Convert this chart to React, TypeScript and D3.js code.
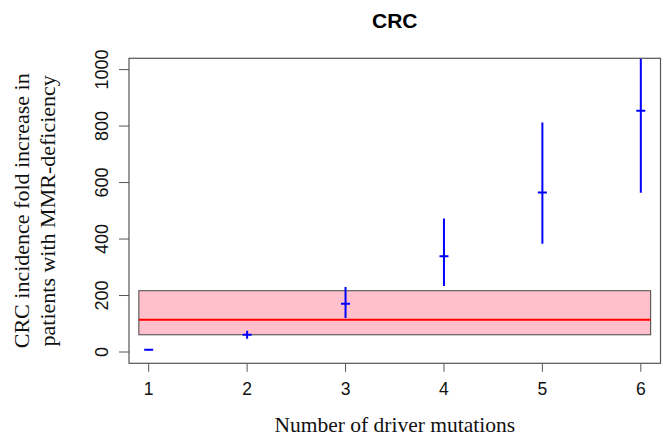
import React from "react";
import * as d3 from "d3";

const categories = [1, 2, 3, 4, 5, 6];
const estimates = [8, 61, 171, 339, 565, 854];
const lowerCI = [5, 47, 120, 234, 383, 564];
const upperCI = [11, 75, 230, 473, 813, 1150];
const yTicks = [0, 200, 400, 600, 800, 1000];
const bandLow = 61;
const bandHigh = 217;
const bandMid = 114;
const bandX = [0.9, 6.1];

const W = 666;
const H = 439;
const plot = { left: 129, right: 660.5, top: 58.3, bottom: 363.3 };

export default function App() {
  const x = d3.scaleLinear().domain([0.8, 6.2]).range([plot.left, plot.right]);
  const y = d3.scaleLinear().domain([-40, 1040]).range([plot.bottom, plot.top]);
  const sans = "'Liberation Sans', Arial, Helvetica, sans-serif";
  const serif = "'Liberation Serif', 'Times New Roman', serif";
  const axisColor = "#555";
  const cy = (plot.top + plot.bottom) / 2;
  const cx = (plot.left + plot.right) / 2;
  const cap = 4.5;
  return (
    <svg width={W} height={H} style={{ position: "absolute", left: 0, top: 0, background: "#fff" }}>
      <defs>
        <clipPath id="plotclip">
          <rect x={plot.left} y={plot.top} width={plot.right - plot.left} height={plot.bottom - plot.top} />
        </clipPath>
      </defs>
      <rect x={0} y={0} width={W} height={H} fill="#fff" />
      <text x={cx} y={28} textAnchor="middle" fontFamily={sans} fontWeight="bold" fontSize={21} fill="#000">
        CRC
      </text>
      {/* band */}
      <rect
        x={x(bandX[0])}
        y={y(bandHigh)}
        width={x(bandX[1]) - x(bandX[0])}
        height={y(bandLow) - y(bandHigh)}
        fill="#FFC0CB"
        stroke="#444"
        strokeWidth={1}
      />
      <line x1={x(bandX[0])} x2={x(bandX[1])} y1={y(bandMid)} y2={y(bandMid)} stroke="#FF0000" strokeWidth={2} />
      {/* error bars */}
      <g clipPath="url(#plotclip)">
        {categories.map((c, i) => (
          <g key={c} stroke="#0000FF" strokeWidth={2}>
            <line x1={x(c)} x2={x(c)} y1={y(lowerCI[i])} y2={y(upperCI[i])} />
            <line x1={x(c) - cap} x2={x(c) + cap} y1={y(estimates[i])} y2={y(estimates[i])} />
          </g>
        ))}
      </g>
      {/* box */}
      <rect
        x={plot.left}
        y={plot.top}
        width={plot.right - plot.left}
        height={plot.bottom - plot.top}
        fill="none"
        stroke={axisColor}
        strokeWidth={1.2}
      />
      {/* y axis ticks */}
      {yTicks.map((t) => (
        <g key={t}>
          <line x1={plot.left - 10} x2={plot.left} y1={y(t)} y2={y(t)} stroke={axisColor} strokeWidth={1} />
          <text
            transform={`translate(${107.5},${y(t)}) rotate(-90)`}
            textAnchor="middle"
            fontFamily={sans}
            fontSize={18}
            fill="#111"
          >
            {t}
          </text>
        </g>
      ))}
      {/* x axis ticks */}
      {categories.map((c) => (
        <g key={c}>
          <line x1={x(c)} x2={x(c)} y1={plot.bottom} y2={plot.bottom + 8.5} stroke={axisColor} strokeWidth={1} />
          <text x={x(c)} y={395} textAnchor="middle" fontFamily={sans} fontSize={17.5} fill="#111">
            {c}
          </text>
        </g>
      ))}
      <text x={cx} y={432} textAnchor="middle" fontFamily={serif} fontSize={21.5} fill="#111">
        Number of driver mutations
      </text>
      <text
        transform={`translate(${29},${cy}) rotate(-90)`}
        textAnchor="middle"
        fontFamily={serif}
        fontSize={22}
        fill="#111"
      >
        CRC incidence fold increase in
      </text>
      <text
        transform={`translate(${55},${cy}) rotate(-90)`}
        textAnchor="middle"
        fontFamily={serif}
        fontSize={22}
        fill="#111"
      >
        patients with MMR-deficiency
      </text>
    </svg>
  );
}
